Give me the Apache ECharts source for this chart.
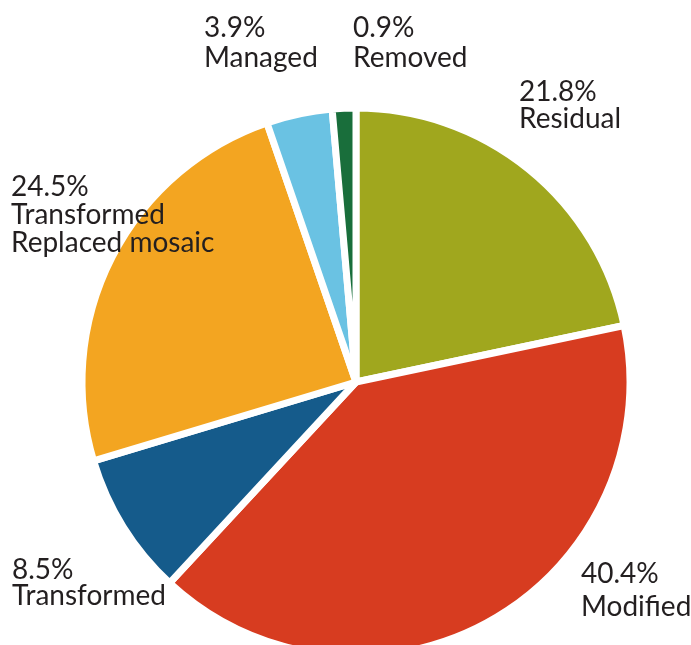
<!DOCTYPE html>
<html>
<head>
<meta charset="utf-8">
<script src="https://cdn.jsdelivr.net/npm/echarts@6/dist/echarts.min.js"></script>
<style>
  html, body { margin: 0; padding: 0; background: #fff; }
  #myChart { width: 691px; height: 645px; }
</style>
</head>
<body>
<div id="myChart"></div>
<script>
// 数据
const categories = ['Residual', 'Modified', 'Transformed', 'Transformed\nReplaced mosaic', 'Managed', 'Removed'];
const shares = [21.8, 40.4, 8.5, 24.5, 3.9, 0.9];
const colors = ['#a0a71e', '#d73c20', '#155b8b', '#f3a521', '#6ac2e3', '#196e3b'];

// label位置 (左上角) 和行高
const labelSpots = [
  { x: 519, y: 78, lh: 27 },
  { x: 581, y: 557, lh: 33 },
  { x: 12, y: 557, lh: 26 },
  { x: 11, y: 173, lh: 28 },
  { x: 204, y: 13, lh: 30 },
  { x: 353, y: 13, lh: 30 }
];

let myChart = echarts.init(document.getElementById('myChart'));
myChart.setOption({
  backgroundColor: '#ffffff',
  animation: false,
  series: [{
    type: 'pie',
    center: [356, 382],
    radius: [0, 274],
    startAngle: 90,
    clockwise: true,
    minAngle: 5,
    avoidLabelOverlap: false,
    itemStyle: {
      borderColor: '#ffffff',
      borderWidth: 7
    },
    label: {
      show: true,
      position: 'outside',
      color: '#231f20',
      fontFamily: 'Lato',
      fontSize: 28,
      formatter: p => p.value.toFixed(1) + '%\n' + p.name
    },
    labelLine: { show: false },
    labelLayout: p => {
      const s = labelSpots[p.dataIndex];
      return { x: s.x, y: s.y, align: 'left', verticalAlign: 'top' };
    },
    data: categories.map((c, i) => ({
      name: c,
      value: shares[i],
      itemStyle: { color: colors[i] },
      label: { lineHeight: labelSpots[i].lh }
    }))
  }]
});
</script>
</body>
</html>
